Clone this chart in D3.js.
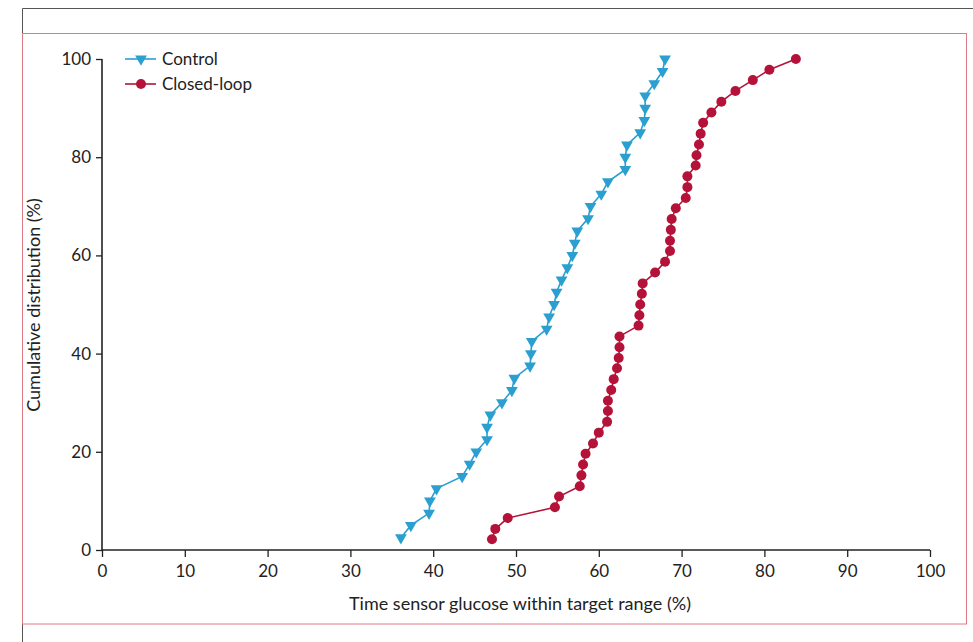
<!DOCTYPE html>
<html><head><meta charset="utf-8">
<script src="https://cdn.jsdelivr.net/npm/d3@7"></script>
<style>
html,body{margin:0;padding:0;background:#fff;}
svg{display:block;}
text{font-family:Lato,"Liberation Sans",sans-serif;fill:#222;}
</style></head>
<body>
<svg id="chart" width="973" height="642"></svg>
<script>
const controlX = [36.1,37.3,39.5,39.6,40.4,43.5,44.4,45.2,46.5,46.5,46.9,48.3,49.5,49.8,51.7,51.8,51.9,53.7,54.0,54.6,54.9,55.5,56.2,56.8,57.1,57.4,58.7,59.0,60.3,61.1,63.2,63.2,63.4,65.0,65.5,65.6,65.6,66.7,67.7,68.0];
const controlY = [2.5,5,7.5,10,12.5,15,17.5,20,22.5,25,27.5,30,32.5,35,37.5,40,42.5,45,47.5,50,52.5,55,57.5,60,62.5,65,67.5,70,72.5,75,77.5,80,82.5,85,87.5,90,92.5,95,97.5,100];
const closedX = [47.1,47.5,49.0,54.7,55.2,57.7,57.9,58.1,58.4,59.3,60.0,61.0,61.1,61.1,61.5,61.8,62.2,62.4,62.5,62.5,64.8,64.9,65.0,65.2,65.3,66.8,68.0,68.6,68.6,68.7,68.8,69.3,70.5,70.7,70.7,71.7,71.8,72.1,72.3,72.6,73.6,74.8,76.5,78.6,80.6,83.8];
const closedY = [2.2,4.3,6.5,8.7,10.9,13.0,15.2,17.4,19.6,21.7,23.9,26.1,28.3,30.4,32.6,34.8,37.0,39.1,41.3,43.5,45.7,47.8,50.0,52.2,54.3,56.5,58.7,60.9,63.0,65.2,67.4,69.6,71.7,73.9,76.1,78.3,80.4,82.6,84.8,87.0,89.1,91.3,93.5,95.7,97.8,100];
const xTicks = [0,10,20,30,40,50,60,70,80,90,100];
const yTicks = [0,20,40,60,80,100];
const seriesNames = ["Control","Closed-loop"];
const seriesColors = ["#2a9fd0","#b5123a"];

const svg = d3.select("#chart");

// frame
svg.append("path").attr("d","M22.5,642 L22.5,8.5 L973,8.5").attr("fill","none").attr("stroke","#555").attr("stroke-width",1);
svg.append("rect").attr("x",22.5).attr("y",33.5).attr("width",944).attr("height",590.5)
  .attr("fill","none").attr("stroke","#e07a86").attr("stroke-width",1);

const x = d3.scaleLinear().domain([0,100]).range([102,930]);
const y = d3.scaleLinear().domain([0,100]).range([550,59]);

const xAxis = svg.append("g").attr("transform","translate(0,550)")
  .call(d3.axisBottom(x).tickValues(xTicks).tickSize(7).tickPadding(8));
const yAxis = svg.append("g").attr("transform","translate(102,0)")
  .call(d3.axisLeft(y).tickValues(yTicks).tickSize(6).tickPadding(5));
[xAxis,yAxis].forEach(g=>{
  g.select(".domain").attr("stroke","#222").attr("stroke-width",1.6);
  g.selectAll(".tick line").attr("stroke","#222").attr("stroke-width",1.3);
  g.selectAll(".tick text").attr("font-size",17).attr("fill","#222")
   .style("font-family",'Lato,"Liberation Sans",sans-serif');
});
xAxis.select(".domain").attr("d","M102,0H930");
yAxis.select(".domain").attr("d","M0,59V550");

svg.append("text").attr("x",520).attr("y",610).attr("text-anchor","middle").attr("font-size",18)
  .text("Time sensor glucose within target range (%)");
svg.append("text").attr("transform","translate(40,305) rotate(-90)").attr("text-anchor","middle").attr("font-size",18)
  .text("Cumulative distribution (%)");

const line = d3.line().x(d=>x(d[0])).y(d=>y(d[1]));
const ctrl = controlX.map((v,i)=>[v,controlY[i]]);
const closed = closedX.map((v,i)=>[v,closedY[i]]);

const tri = d3.symbol().type(d3.symbolTriangle).size(60);

svg.append("path").datum(ctrl).attr("d",line).attr("fill","none").attr("stroke",seriesColors[0]).attr("stroke-width",1.6);
svg.append("g").selectAll("path").data(ctrl).join("path")
  .attr("d",tri).attr("transform",d=>`translate(${x(d[0])},${y(d[1])}) rotate(180)`).attr("fill",seriesColors[0]);

svg.append("path").datum(closed).attr("d",line).attr("fill","none").attr("stroke",seriesColors[1]).attr("stroke-width",1.6);
svg.append("g").selectAll("circle").data(closed).join("circle")
  .attr("cx",d=>x(d[0])).attr("cy",d=>y(d[1])).attr("r",5).attr("fill",seriesColors[1]);

// legend
const leg = svg.append("g");
seriesNames.forEach((name,i)=>{
  const ly = 59 + i*25;
  leg.append("line").attr("x1",125).attr("x2",156).attr("y1",ly).attr("y2",ly).attr("stroke",seriesColors[i]).attr("stroke-width",1.6);
  if(i===0){
    leg.append("path").attr("d",tri).attr("transform",`translate(141,${ly}) rotate(180)`).attr("fill",seriesColors[i]);
  } else {
    leg.append("circle").attr("cx",141).attr("cy",ly).attr("r",5).attr("fill",seriesColors[i]);
  }
  leg.append("text").attr("x",162).attr("y",ly).attr("dy","0.35em").attr("font-size",17).text(name);
});
</script>
</body></html>
